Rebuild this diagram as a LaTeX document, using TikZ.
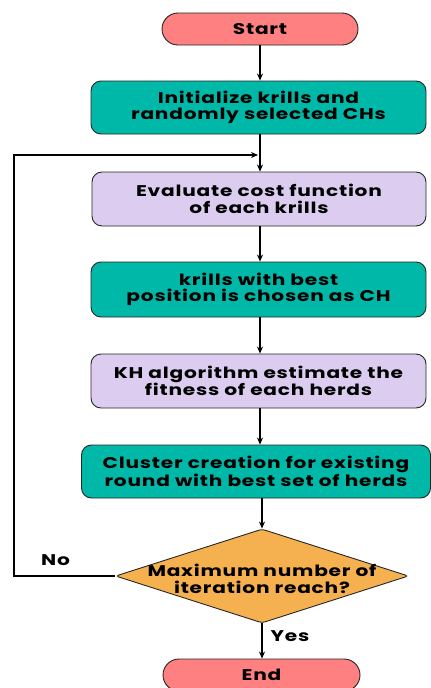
\documentclass[tikz,border=0pt]{standalone}
\usepackage{fontspec}
\setmainfont{Poppins}[FakeStretch=1.3, LetterSpace=5]
\usetikzlibrary{shapes.geometric,arrows.meta}
\definecolor{startc}{RGB}{255,128,128}
\definecolor{tealc}{RGB}{0,184,168}
\definecolor{lavc}{RGB}{220,205,240}
\definecolor{orc}{RGB}{245,176,80}
\newcommand{\zerobox}[1]{\raisebox{0pt}[0pt][0pt]{\makebox[0pt]{\raisebox{-9pt}{\begin{tabular}{@{}c@{}}#1\end{tabular}}}}}
\tikzset{
  base/.style={draw=black!85, line width=0.9pt, align=center, inner sep=0pt,
    font=\fontsize{15.5}{16.5}\selectfont\bfseries},
  term/.style={base, fill=startc, rounded corners=16pt, minimum width=196pt, minimum height=32pt},
  procA/.style={base, fill=tealc, rounded corners=10pt, minimum height=54pt},
  procB/.style={base, fill=lavc, rounded corners=10pt, minimum height=54pt},
  dec/.style={base, fill=orc, diamond, minimum width=293pt, minimum height=94pt, rounded corners=3pt},
  arr/.style={-{Stealth[length=7pt,width=6pt]}, line width=1.2pt, black},
  lbl/.style={font=\fontsize{15.5}{16.5}\selectfont\bfseries}
}
\begin{document}
\begin{tikzpicture}[x=1pt,y=-1pt]
\useasboundingbox (0,0) rectangle (431,688);
\clip (0,0) rectangle (431,688);
\node[term] (start) at (260,29) {Start};
\node[procA, minimum width=335pt, minimum height=53pt] (b1) at (258.5,107.5) {Initialize krills and\\randomly selected CHs};
\node[procB, minimum width=334pt] (b2) at (259,199) {Evaluate cost function\\of each krills};
\node[procA, minimum width=335pt, minimum height=55pt] (b3) at (258.5,289.5) {krills with best\\position is chosen as CH};
\node[procB, minimum width=335pt] (b4) at (258.5,381) {KH algorithm estimate the\\fitness of each herds};
\node[procA, minimum width=349pt, minimum height=53pt] (b5) at (256,471.5) {Cluster creation for existing\\round with best set of herds};
\node[dec] (d) at (262,576) {\zerobox{Maximum number of\\[-1pt]iteration reach?}};
\node[term, minimum width=197pt] (end) at (261.5,675) {End};
\coordinate (m) at (260,155);
\coordinate (c1) at (14,576);
\coordinate (c2) at (14,155);
\draw[arr] (start.south -| 260,0) -- (b1.north -| 260,0);
\draw[arr] (b1.south -| 260,0) -- (b2.north -| 260,0);
\draw[arr] (b2.south -| 260,0) -- (b3.north -| 260,0);
\draw[arr] (b3.south -| 260,0) -- (b4.north -| 260,0);
\draw[arr] (b4.south -| 260,0) -- (b5.north -| 260,0);
\draw[arr] (b5.south -| 262,0) -- (d.north);
\draw[arr] (d.south) -- (end.north -| 262,0);
\draw[arr] (d.west) -- (c1) -- (c2) -- ([xshift=-2pt]m);
\node[lbl] (no) at (55.5,560) {No};
\node[lbl] (yes) at (290,636) {Yes};
\end{tikzpicture}
\end{document}
